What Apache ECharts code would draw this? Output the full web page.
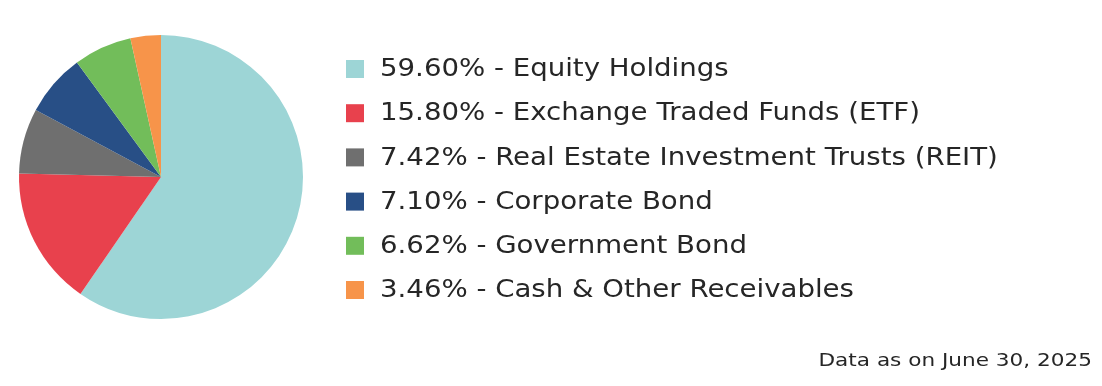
<!DOCTYPE html>
<html><head><meta charset="utf-8">
<style>html,body{margin:0;padding:0;background:#fff}#c{width:1102px;height:386px}</style>
<script src="https://cdn.jsdelivr.net/npm/echarts@6/dist/echarts.min.js"></script>
</head><body><div id="c"></div>
<script>
const categories = ["Equity Holdings","Exchange Traded Funds (ETF)","Real Estate Investment Trusts (REIT)","Corporate Bond","Government Bond","Cash & Other Receivables"];
const values = [59.60, 15.80, 7.42, 7.10, 6.62, 3.46];
const colors = ["#9dd5d6","#e8414d","#6f6f6f","#284f86","#72bd5a","#f7944a"];
const footnote = "Data as on June 30, 2025";

const chart = echarts.init(document.getElementById('c'), null, {renderer:'canvas'});
const data = categories.map((n,i)=>({name:n, value:values[i], itemStyle:{color:colors[i]}}));

const legendTop = 69, legendStep = 44.2;
const legendGraphics = [];
categories.forEach((n,i)=>{
  const cy = legendTop + i*legendStep;
  legendGraphics.push({type:'rect', shape:{x:346, y:cy-9, width:18, height:18}, style:{fill:colors[i]}});
  legendGraphics.push({type:'text', x:380, y:cy+1, scaleX:1.15,
    style:{text: values[i].toFixed(2) + '% - ' + n, font:'24px "DejaVu Sans"', fill:'#262626', textVerticalAlign:'middle', verticalAlign:'middle'}});
});
legendGraphics.push({type:'text', x:1092, y:362, scaleX:1.27,
  style:{text:footnote, font:'17px "DejaVu Sans"', fill:'#262626', textAlign:'right', align:'right', verticalAlign:'middle', textVerticalAlign:'middle'}});

chart.setOption({
  animation:false,
  graphic: legendGraphics,
  series:[{
    type:'pie', center:[161,177], radius:142, startAngle:90, clockwise:true,
    label:{show:false}, labelLine:{show:false}, emphasis:{disabled:true},
    itemStyle:{borderWidth:0}, data:data
  }]
});
</script></body></html>
